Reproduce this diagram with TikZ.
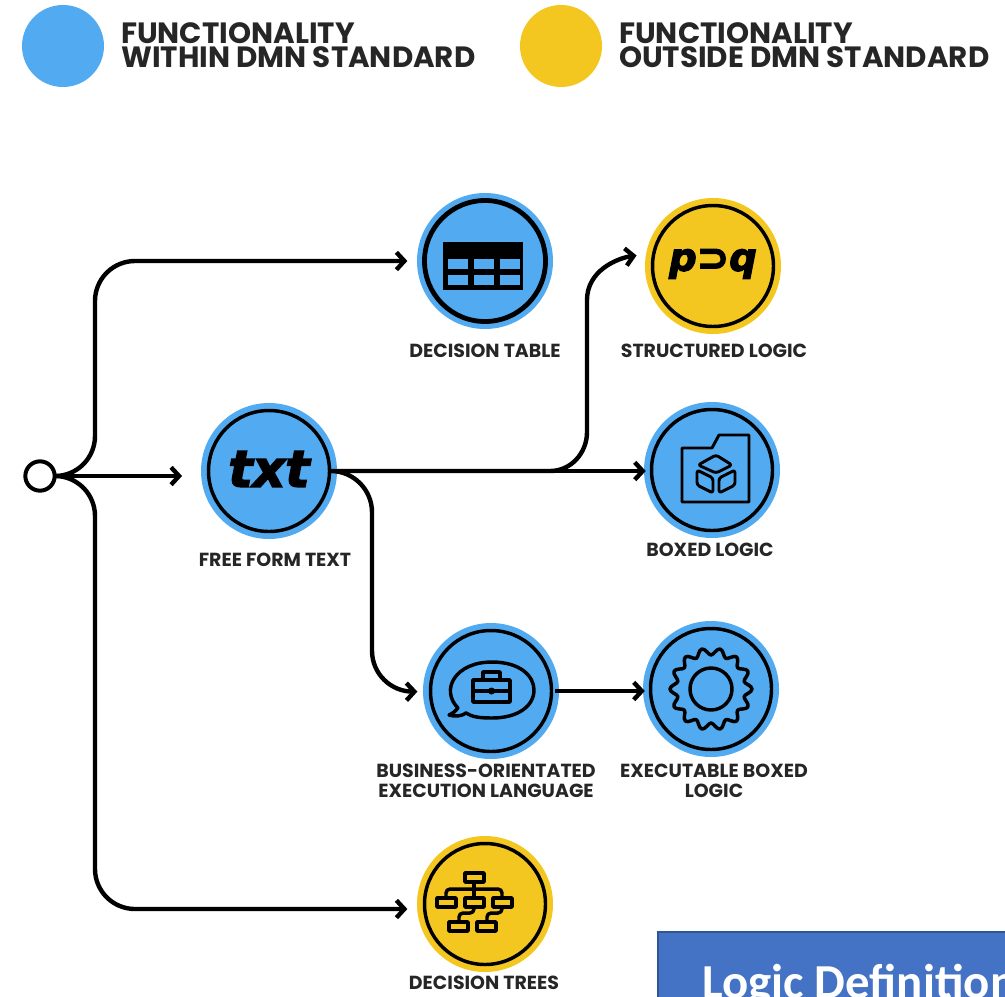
\documentclass[tikz,border=0pt]{standalone}
\usepackage{fontspec}
\setmainfont{Poppins}
\newfontfamily\iconfont[BoldItalicFeatures={FakeBold=3}]{DejaVu Sans}
\newfontfamily\boxfont{Carlito}
\usetikzlibrary{positioning,arrows.meta,calc}
\definecolor{dmnBlue}{RGB}{82,171,240}
\definecolor{dmnYellow}{RGB}{244,198,32}
\definecolor{boxBlue}{RGB}{68,114,196}
\definecolor{boxEdge}{RGB}{47,85,151}
\tikzset{
  iconcircle/.style={circle, minimum size=102pt, inner sep=0pt},
  ringline/.style={line width=2.6pt},
  iconline/.style={line width=2.6pt, line join=round},
  thinicon/.style={line width=2.2pt, line join=round},
  flow/.style={->, line width=3.3pt, shorten >=7pt},
  caption/.style={font=\fontsize{14.2}{15}\selectfont\bfseries, align=center, text=black!85},
  legendtext/.style={font=\fontsize{22}{18}\selectfont\bfseries, align=left, anchor=west, text=black!85},
  >={Straight Barb[length=6pt,width=13pt,line width=3.3pt]}
}
\begin{document}
\begin{tikzpicture}[x=0.75pt,y=-0.75pt]
  \useasboundingbox (0,0) rectangle (1005,996);

  % Legend
  \node[circle, minimum size=61.5pt, inner sep=0pt, fill=dmnBlue] (legendin) at (63,46) {};
  \node[circle, minimum size=61.5pt, inner sep=0pt, fill=dmnYellow] (legendout) at (561,46) {};
  \node[legendtext] (legendintext) at (116.5,45) {FUNCTIONALITY\\WITHIN DMN STANDARD};
  \node[legendtext] (legendouttext) at (614.5,45) {FUNCTIONALITY\\OUTSIDE DMN STANDARD};

  % Circles with their rings
  \foreach \name/\px/\py/\col in {dectable/485/261/dmnBlue, structlogic/713/266/dmnYellow,
      freetext/269/471/dmnBlue, boxedlogic/712/470/dmnBlue, boel/491/691/dmnBlue,
      execlogic/711/689/dmnBlue, dectrees/485/904/dmnYellow} {
    \node[iconcircle, fill=\col] (\name) at (\px,\py) {};
    \draw[ringline] (\name) circle [radius=60.5];
  }
  \draw[line width=3.6pt] (dectable) circle [radius=60.5];
  \node[circle, draw, line width=3pt, fill=white, minimum size=22pt, inner sep=0pt] (start) at (40,476) {};

  % Bends of the connectors
  \coordinate (bendtop) at (95,261);
  \coordinate (bendtree) at (95,909);
  \coordinate (structa) at (550,471);
  \coordinate (structb) at (587,432);
  \coordinate (bendstruct) at (587,300);
  \coordinate (bendboel) at (372,692);

  % Connectors
  \draw[flow, rounded corners=30pt] (start) -| (bendtop) -- (dectable);
  \draw[flow, rounded corners=30pt] (start) -| (bendtree) -- (bendtree -| dectrees.west);
  \draw[flow, shorten >=14pt] (start) -- (start -| freetext.west);
  \draw[flow, shorten >=-1.5pt] (freetext) -- (freetext -| boxedlogic.west);
  \draw[flow] (freetext) -- (structa) to[out=0,in=270] (structb) -- (bendstruct) to[out=90,in=188] (structlogic.170);
  \draw[flow, rounded corners=31pt, shorten >=4pt] (freetext) -| (bendboel) -- (boel);
  \draw[flow, shorten >=-1.5pt, shorten <=-3pt] (boel) -- (boel -| execlogic.west);

  % Decision table icon
  \fill (443,242) rectangle (523,290);
  \foreach \cx in {448,474,500} {
    \foreach \cy in {259,275} {
      \fill[dmnBlue] (\cx,\cy) rectangle ++(20,10);
    }
  }

  % Text icons
  \node[font=\fontsize{29}{29}\selectfont\iconfont\bfseries\itshape] (pdq) at (713,264) {p⊃q};
  \node[font=\fontsize{38}{38}\selectfont\iconfont\bfseries\itshape] (txt) at (269,469) {txt};

  % Boxed logic icon
  \draw[thinicon] (682,448) -- (712,448) -- (719,435) -- (749,435) -- (749,502) -- (682,502) -- cycle;
  \begin{scope}[thinicon, rounded corners=2pt]
    \draw (716,455) -- (732,465) -- (716,473) -- (698,465) -- cycle;
    \draw (697,470) -- (713,478) -- (713,493) -- (697,485) -- cycle;
    \draw (735,470) -- (719,478) -- (719,493) -- (735,485) -- cycle;
  \end{scope}

  % Speech bubble with briefcase
  \draw[iconline] (458,708) .. controls (440,690) and (455,662) .. (492,662)
    .. controls (520,662) and (534,676) .. (534,690)
    .. controls (534,706) and (518,718) .. (492,718)
    .. controls (480,718) and (472,717) .. (466,713)
    .. controls (462,716) and (455,717) .. (449,715)
    .. controls (453,713) and (456,711) .. (458,708) -- cycle;
  \draw[iconline] (473,680) rectangle (510,702);
  \draw[iconline] (483,680) -- (483,672) -- (500,672) -- (500,680);
  \draw[iconline] (473,691) -- (510,691);
  \fill (491.5,691) circle [radius=3.5];

  % Gear
  \draw[iconline] plot[domain=0:360, samples=113, smooth cycle] ([shift={(execlogic)}]\x:{37.5+3.5*cos(14*\x)});
  \draw[iconline] (execlogic) circle [radius=21];

  % Tree icon
  \foreach \bx/\by in {465/873, 437/898, 465/898, 493/898, 449/922, 477/922} {
    \draw[iconline] (\bx,\by) rectangle ++(19,9);
  }
  \begin{scope}[iconline, rounded corners=3pt]
    \draw (474,882) -- (474,898);
    \draw (446,898) -- (446,889) -- (502,889) -- (502,898);
    \draw (474,907) -- (474,913) -- (459,913) -- (459,922);
    \draw (502,907) -- (502,913) -- (487,913) -- (487,922);
  \end{scope}

  % Captions
  \node[caption] (dectablelabel) at (485,351) {DECISION TABLE};
  \node[caption] (structlabel) at (714,351) {STRUCTURED LOGIC};
  \node[caption] (freelabel) at (275,560) {FREE FORM TEXT};
  \node[caption] (boxedlabel) at (710,550) {BOXED LOGIC};
  \node[caption] (boellabel) at (486,781) {BUSINESS-ORIENTATED\\EXECUTION LANGUAGE};
  \node[caption] (execlabel) at (714,781) {EXECUTABLE BOXED\\LOGIC};
  \node[caption] (treeslabel) at (484,983) {DECISION TREES};

  % Title box, cut by the edge of the picture
  \begin{scope}
    \clip (0,0) rectangle (1005,996);
    \draw[boxEdge, fill=boxBlue, line width=1.2pt] (658,932) rectangle (1020,1010);
    \node[anchor=base west, text=white, font=\fontsize{36.6}{37}\selectfont\boxfont\bfseries, inner sep=0pt] (boxtitle) at (702,998) {Logic Definition};
  \end{scope}
\end{tikzpicture}
\end{document}
